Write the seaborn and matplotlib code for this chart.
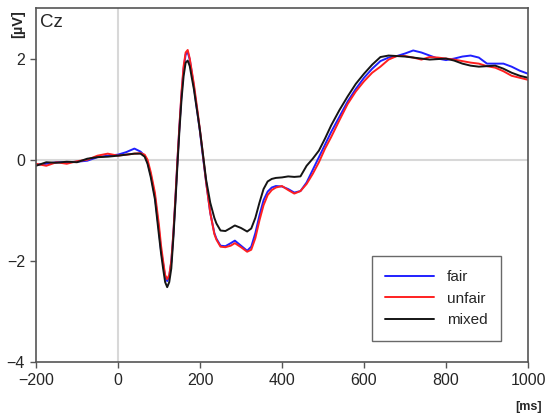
import numpy as np
import pandas as pd
import matplotlib
matplotlib.use("Agg")
import matplotlib.pyplot as plt
import seaborn as sns

# ERP at Cz (ms, microvolts)
time_ms = [-200, -175, -150, -125, -100, -75, -50, -25, 0,
           20, 40, 55, 65, 72, 80, 90,
           100, 105, 110, 115, 120, 125, 130, 135, 140, 145,
           150, 155, 160, 165, 170, 175, 180, 185, 190, 195,
           200, 205, 215, 225, 235, 240, 250, 262, 275, 285,
           300, 315, 325, 335, 345, 355, 365, 375, 385,
           400, 415, 430, 445, 460, 475, 490,
           505, 520, 540, 560, 580, 600, 620, 640, 660, 680,
           700, 720, 740, 760, 780, 800, 820, 840, 860, 880, 900, 920, 940, 960, 980, 1000]

fair = [-0.1, -0.08, -0.05, -0.05, -0.04, -0.02, 0.05, 0.08, 0.1,
        0.15, 0.22, 0.16, 0.08, -0.05, -0.3, -0.72,
        -1.4, -1.8, -2.05, -2.32, -2.4, -2.3, -2.02, -1.48, -0.78, -0.02,
        0.68, 1.3, 1.8, 2.08, 2.13, 1.98, 1.72, 1.45, 1.15, 0.85,
        0.55, 0.2, -0.45, -1.05, -1.45, -1.56, -1.7, -1.71, -1.65, -1.6,
        -1.7, -1.8, -1.72, -1.45, -1.1, -0.8, -0.63, -0.55, -0.52,
        -0.53, -0.58, -0.65, -0.62, -0.45, -0.2, 0.05,
        0.3, 0.55, 0.85, 1.15, 1.4, 1.62, 1.8, 1.95, 2.02, 2.05,
        2.1, 2.16, 2.12, 2.06, 2.0, 1.97, 2.0, 2.04, 2.06, 2.02, 1.9, 1.9, 1.9, 1.84, 1.76, 1.7]

unfair = [-0.08, -0.12, -0.05, -0.08, -0.03, 0.0, 0.08, 0.12, 0.08,
          0.1, 0.12, 0.13, 0.1, 0.0, -0.25, -0.65,
          -1.3, -1.7, -2.0, -2.28, -2.36, -2.28, -2.0, -1.45, -0.75, 0.0,
          0.7, 1.35, 1.85, 2.12, 2.17, 2.0, 1.75, 1.5, 1.2, 0.9,
          0.58, 0.25, -0.45, -1.05, -1.47, -1.58, -1.72, -1.73, -1.7, -1.65,
          -1.73, -1.82, -1.78, -1.55, -1.2, -0.9, -0.7, -0.6, -0.55,
          -0.52, -0.6, -0.67, -0.62, -0.48, -0.28, -0.05,
          0.22, 0.45, 0.78, 1.1, 1.35, 1.55, 1.72, 1.84, 1.98, 2.05,
          2.05, 2.02, 1.98, 2.03, 2.02, 2.0, 1.98, 1.95, 1.92, 1.9, 1.85, 1.82, 1.75, 1.66, 1.62, 1.58]

mixed = [-0.12, -0.05, -0.06, -0.04, -0.05, 0.02, 0.05, 0.06, 0.08,
         0.1, 0.12, 0.12, 0.06, -0.08, -0.35, -0.78,
         -1.5, -1.85, -2.15, -2.42, -2.52, -2.42, -2.15, -1.55, -0.85, -0.1,
         0.6, 1.2, 1.65, 1.92, 1.96, 1.85, 1.62, 1.4, 1.12, 0.85,
         0.57, 0.25, -0.4, -0.85, -1.15, -1.26, -1.4, -1.41, -1.35, -1.3,
         -1.35, -1.42, -1.36, -1.15, -0.85, -0.58, -0.43, -0.38, -0.36,
         -0.35, -0.33, -0.34, -0.33, -0.12, 0.02, 0.18,
         0.42, 0.68, 0.98, 1.25, 1.5, 1.7, 1.88, 2.03, 2.06, 2.05,
         2.04, 2.02, 2.0, 1.98, 1.99, 2.0, 1.96, 1.9, 1.86, 1.84, 1.85, 1.86, 1.8, 1.72, 1.66, 1.62]

conditions = ["fair", "unfair", "mixed"]
colors = ["#2020ff", "#ff2020", "#151515"]

df = pd.concat([
    pd.DataFrame({"time": time_ms, "amp": vals, "condition": name})
    for name, vals in zip(conditions, [fair, unfair, mixed])
])

sns.set_style("white")
plt.rcParams["font.family"] = ["Liberation Sans", "DejaVu Sans"]

fig = plt.figure(figsize=(5.51, 4.16), dpi=100)
ax = fig.add_axes([36 / 551, 54 / 416, 492 / 551, 354 / 416])

# zero reference lines
ax.axhline(0, color="#d8d8d8", lw=1.5, zorder=0)
ax.axvline(0, color="#d8d8d8", lw=1.5, zorder=0)

sns.lineplot(data=df, x="time", y="amp", hue="condition", hue_order=conditions,
             palette=colors, linewidth=1.4, ax=ax, sort=False)

ax.set_xlim(-200, 1000)
ax.set_ylim(-4, 3)
ax.set_xticks([-200, 0, 200, 400, 600, 800, 1000])
ax.set_yticks([-4, -2, 0, 2])
ax.set_xlabel("")
ax.set_ylabel("")
ax.tick_params(axis="both", direction="out", length=4, width=1, color="#555555",
               labelsize=11.5, pad=4, bottom=True, left=True)
for sp in ax.spines.values():
    sp.set_color("#555555")
    sp.set_linewidth(1.2)

ax.text(4 / 492, 1 - 6 / 354, "Cz", transform=ax.transAxes, ha="left", va="top", fontsize=13.5)
fig.text(18 / 551, 1 - 24 / 416, "[µV]", rotation=90, ha="center", va="center",
         fontsize=10.5, fontweight="bold")
fig.text(529 / 551, 1 - 407 / 416, "[ms]", ha="center", va="center",
         fontsize=9, fontweight="bold")

leg = ax.legend(loc="lower right", bbox_to_anchor=(0.945, 0.059), frameon=True,
                fancybox=False, edgecolor="#444444", fontsize=11, handlelength=3.2,
                borderpad=0.9, labelspacing=0.5, handletextpad=0.8, borderaxespad=0)
leg.get_frame().set_linewidth(1.0)

fig.savefig("out.png", dpi=100)
